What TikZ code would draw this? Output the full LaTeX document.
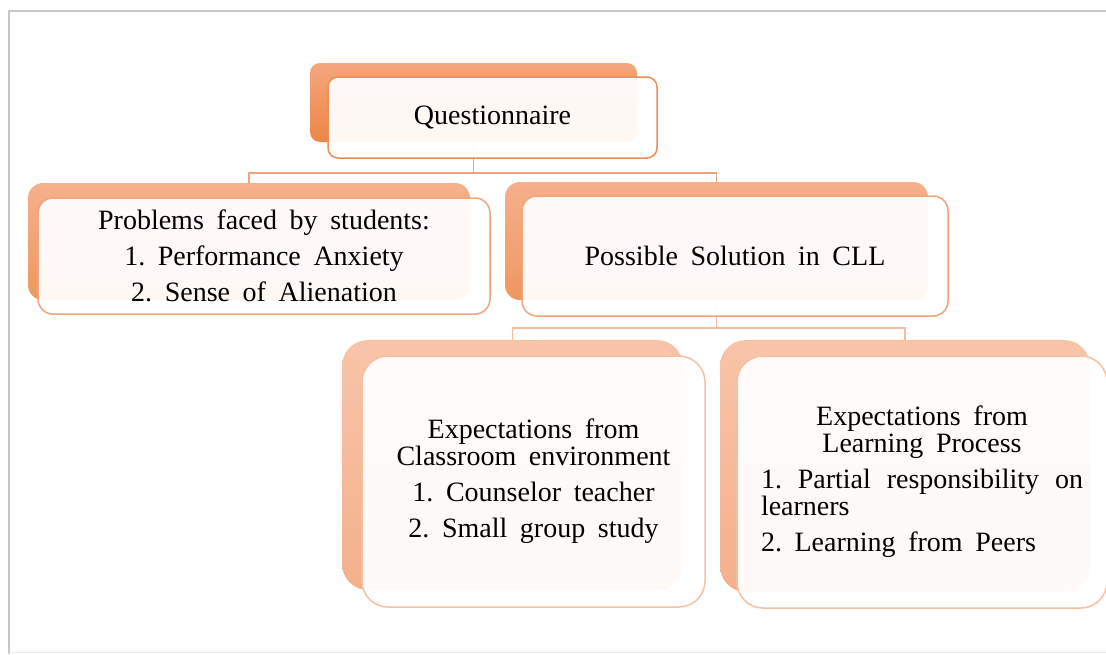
\documentclass[tikz,border=0pt]{standalone}
\usepackage{fontspec}
\setmainfont{Liberation Serif}[WordSpace=1.8]
\setlength{\parindent}{0pt}
\frenchspacing

% tab and box colours
\definecolor{tabAtop}{HTML}{F4A67C}
\definecolor{tabAbot}{HTML}{EC8646}
\definecolor{tabBtop}{HTML}{F6B08B}
\definecolor{tabBbot}{HTML}{EF975F}
\definecolor{tabCtop}{HTML}{F8C4A8}
\definecolor{tabCbot}{HTML}{F4B08B}
\definecolor{edgeA}{HTML}{EB8E58}
\definecolor{edgeB}{HTML}{F2A47C}
\definecolor{edgeC}{HTML}{F6C0A2}
\definecolor{linkA}{HTML}{F0A47C}
\definecolor{linkC}{HTML}{F5BEA0}

\begin{document}
\begin{tikzpicture}[x=1pt, y=-1pt,
      tab/.style={rectangle, draw=none, inner sep=0pt},
      tabA/.style={tab, rounded corners=10pt, top color=tabAtop, bottom color=tabAbot},
      tabB/.style={tab, rounded corners=15pt, top color=tabBtop, bottom color=tabBbot},
      tabC/.style={tab, rounded corners=26pt, top color=tabCtop, bottom color=tabCbot},
      box/.style={rectangle, fill=white, fill opacity=0.94, text opacity=1,
        line width=1.5pt, inner sep=0pt, align=center,
        font=\fontsize{28}{27}\selectfont},
      boxA/.style={box, draw=edgeA, rounded corners=10pt},
      boxB/.style={box, draw=edgeB, rounded corners=15pt},
      boxC/.style={box, draw=edgeC, rounded corners=26pt},
      link/.style={line width=1.5pt, draw=linkA},
      linkc/.style={line width=1.5pt, draw=linkC},
      frame/.style={line width=2pt, draw=black!22}
    ]
    \useasboundingbox (0,0) rectangle (1106,654);

    % page edge
    \draw[frame] (1106,11) -- (9,11) -- (9,654);
    \draw[line width=1pt, black!8] (9,652) -- (1106,652);

    % back tabs
    \node[tabA, minimum width=327pt, minimum height=79pt]  (qtab) at (473.5,102.5) {};
    \node[tabB, minimum width=442pt, minimum height=117pt] (ptab) at (249,241.5) {};
    \node[tabB, minimum width=423pt, minimum height=118pt] (stab) at (716.5,241) {};
    \node[tabC, minimum width=341pt, minimum height=250pt] (ctab) at (512.5,465) {};
    \node[tabC, minimum width=370pt, minimum height=252pt] (ltab) at (905,466) {};

    % connectors
    \draw[link] (qtab.south) -- ++(0,31) -| (ptab.north);
    \draw[link] (qtab.south) -- ++(0,31) -| (stab.north);
    \draw[linkc] (stab.south) -- ++(0,28) -| (ctab.north);
    \draw[linkc] (stab.south) -- ++(0,28) -| (ltab.north);

    % front boxes
    \node[boxA, minimum width=329pt, minimum height=81pt] (quest) at (492.5,117.5)
      {Questionnaire};
    \node[boxB, minimum width=452pt, minimum height=116pt] (probs) at (264,256)
      {Problems faced by students:\\[9pt] 1. Performance Anxiety\\[9pt] 2. Sense of Alienation};
    \node[boxB, minimum width=426pt, minimum height=120pt] (sol) at (735,256)
      {Possible Solution in CLL};
    \node[boxC, minimum width=343pt, minimum height=251pt] (room) at (533.5,481.5)
      {Expectations from\\ Classroom environment\\[9pt] 1. Counselor teacher\\[9pt] 2. Small group study};
    \node[boxC, minimum width=370pt, minimum height=252pt, text width=322pt, align=justify] (learn) at (922,482)
      {{\centering Expectations from\\ Learning Process\par}\vspace{9pt}
       1. Partial responsibility on\linebreak learners\par\vspace{9pt}
       2. Learning from Peers};
  \end{tikzpicture}
\end{document}
